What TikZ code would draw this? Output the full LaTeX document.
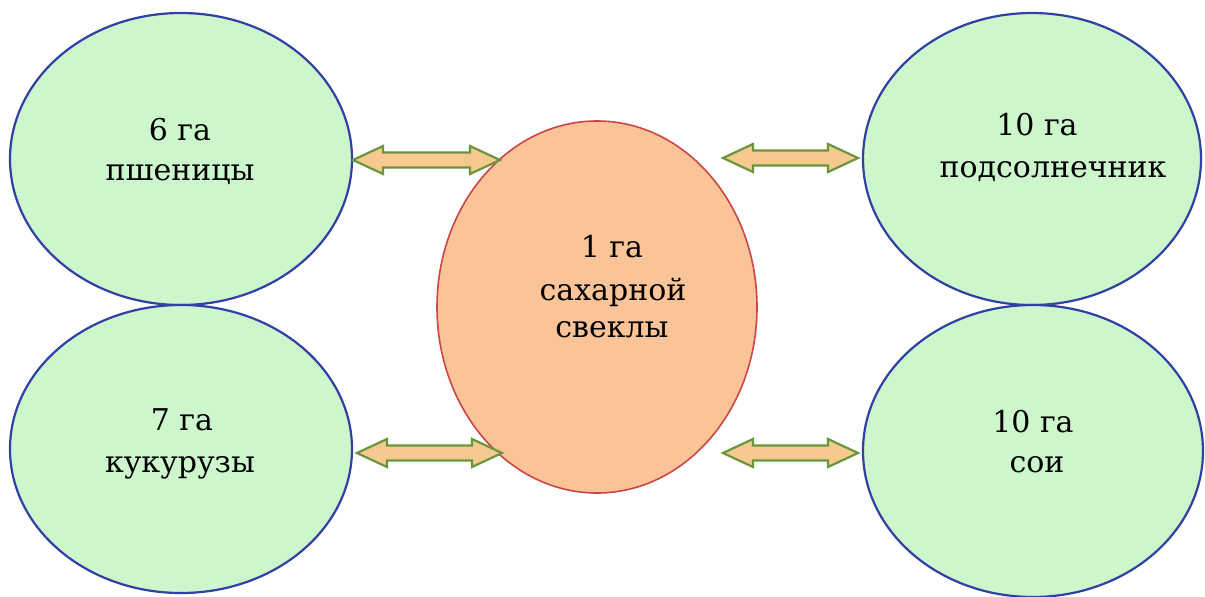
\documentclass[tikz,border=0pt]{standalone}
\usepackage{fontspec}
\setmainfont{DejaVu Serif}
\usetikzlibrary{calc}
\definecolor{ellfill}{RGB}{205,246,205}
\definecolor{elldraw}{RGB}{48,64,165}
\definecolor{cfill}{RGB}{250,196,152}
\definecolor{cdraw}{RGB}{205,70,70}
\definecolor{afill}{RGB}{246,202,142}
\definecolor{adraw}{RGB}{105,150,60}
\tikzset{
  ell/.style={ellipse, draw=elldraw, fill=ellfill, line width=2.2pt, inner sep=0pt},
  mid/.style={ellipse, draw=cdraw, fill=cfill, line width=1.6pt, inner sep=0pt},
  lbl/.style={anchor=base, inner sep=0pt, font=\fontsize{30}{40}\selectfont, text=black},
  arr/.style={draw=adraw, fill=afill, line width=2.2pt, line join=miter},
}
\usetikzlibrary{shapes.geometric}
\newcommand\twoway[2]{%
  \draw[arr] (#1) -- ($(#1)+(30,-14)$) -- ($(#1)+(30,-7.5)$) -- ($(#2)+(-30,-7.5)$)
    -- ($(#2)+(-30,-14)$) -- (#2) -- ($(#2)+(-30,14)$) -- ($(#2)+(-30,7.5)$)
    -- ($(#1)+(30,7.5)$) -- ($(#1)+(30,14)$) -- cycle;}
\begin{document}
\begin{tikzpicture}[x=1pt,y=-1pt]
\useasboundingbox[fill=white] (0,0) rectangle (1205,597);
\node[ell, minimum width=342pt, minimum height=292pt] (tl) at (181,159) {};
\node[ell, minimum width=342pt, minimum height=288pt] (bl) at (181,449) {};
\node[ell, minimum width=338pt, minimum height=292pt] (tr) at (1032,159) {};
\node[ell, minimum width=340pt, minimum height=292pt] (br) at (1033,451) {};
\node[mid, minimum width=320pt, minimum height=372pt] (c) at (597,307) {};
% labels
\node[lbl] (tl1) at (180,140) {6 га};
\node[lbl] (tl2) at (180,180) {пшеницы};
\node[lbl] (tr1) at (1037,135) {10 га};
\node[lbl] (tr2) at (1053,177) {подсолнечник};
\node[lbl] (bl1) at (182,430) {7 га};
\node[lbl] (bl2) at (180,472) {кукурузы};
\node[lbl] (br1) at (1033,432) {10 га};
\node[lbl] (br2) at (1037,472) {сои};
\node[lbl] (c1) at (612,257) {1 га};
\node[lbl] (c2) at (613,300) {сахарной};
\node[lbl] (c3) at (612,337) {свеклы};
% arrows
\coordinate (a1s) at (353,160); \coordinate (a1e) at (500,160);
\coordinate (a2s) at (723,158); \coordinate (a2e) at (858,158);
\coordinate (a3s) at (357,453); \coordinate (a3e) at (502,453);
\coordinate (a4s) at (723,453); \coordinate (a4e) at (858,453);
\twoway{a1s}{a1e}
\twoway{a2s}{a2e}
\twoway{a3s}{a3e}
\twoway{a4s}{a4e}
\end{tikzpicture}
\end{document}
